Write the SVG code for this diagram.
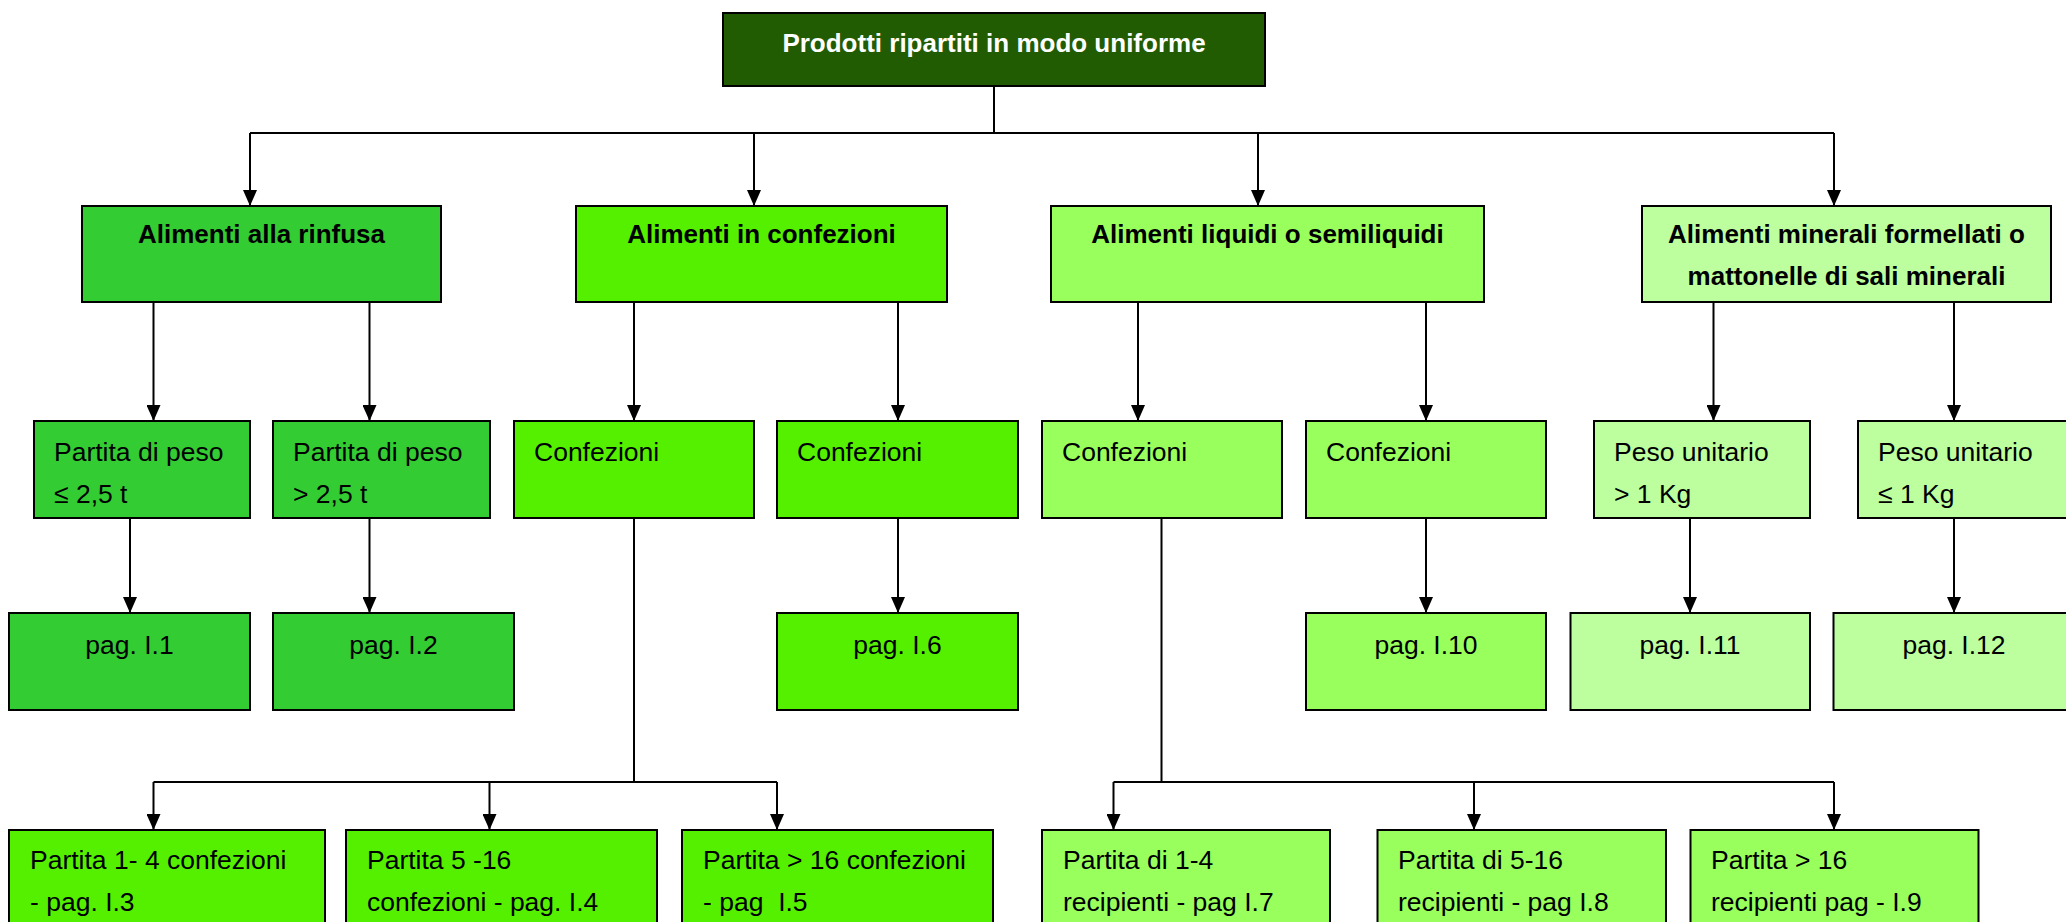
<svg xmlns="http://www.w3.org/2000/svg" width="2066" height="922" viewBox="0 0 2066 922">
<style>
.box{stroke:#000;stroke-width:2}
.top{fill:#215C03}
.g1{fill:#33CC33}
.g2{fill:#55F000}
.g3{fill:#99FF5C}
.g4{fill:#BDFF9E}
text{font-family:"Liberation Sans",Arial,sans-serif;font-size:26.5px;fill:#000;white-space:pre}
.b{font-weight:bold;font-size:26px}
.w{fill:#fff}
.c{text-anchor:middle}
.conn line{stroke:#000;stroke-width:2;fill:none}
</style>
<defs>
<marker id="arr" markerUnits="userSpaceOnUse" markerWidth="16" markerHeight="14" refX="16" refY="7" orient="auto" viewBox="0 0 16 14">
<path d="M0,0 L16,7 L0,14 z" fill="#000"/>
</marker>
</defs>
<rect width="2066" height="922" fill="#fff"/>

<g class="conn">
<line x1="994" y1="86" x2="994" y2="133"/>
<line x1="250" y1="133" x2="1834" y2="133"/>
<line x1="250" y1="133" x2="250" y2="206" marker-end="url(#arr)"/>
<line x1="754" y1="133" x2="754" y2="206" marker-end="url(#arr)"/>
<line x1="1258" y1="133" x2="1258" y2="206" marker-end="url(#arr)"/>
<line x1="1834" y1="133" x2="1834" y2="206" marker-end="url(#arr)"/>

<line x1="153.5" y1="302" x2="153.5" y2="421" marker-end="url(#arr)"/>
<line x1="369.5" y1="302" x2="369.5" y2="421" marker-end="url(#arr)"/>
<line x1="634" y1="302" x2="634" y2="421" marker-end="url(#arr)"/>
<line x1="898" y1="302" x2="898" y2="421" marker-end="url(#arr)"/>
<line x1="1138" y1="302" x2="1138" y2="421" marker-end="url(#arr)"/>
<line x1="1426" y1="302" x2="1426" y2="421" marker-end="url(#arr)"/>
<line x1="1713.5" y1="302" x2="1713.5" y2="421" marker-end="url(#arr)"/>
<line x1="1954" y1="302" x2="1954" y2="421" marker-end="url(#arr)"/>

<line x1="130" y1="518" x2="130" y2="613" marker-end="url(#arr)"/>
<line x1="369.5" y1="518" x2="369.5" y2="613" marker-end="url(#arr)"/>
<line x1="898" y1="518" x2="898" y2="613" marker-end="url(#arr)"/>
<line x1="1426" y1="518" x2="1426" y2="613" marker-end="url(#arr)"/>
<line x1="1690" y1="518" x2="1690" y2="613" marker-end="url(#arr)"/>
<line x1="1954" y1="518" x2="1954" y2="613" marker-end="url(#arr)"/>

<line x1="634" y1="518" x2="634" y2="782"/>
<line x1="153.5" y1="782" x2="777" y2="782"/>
<line x1="153.5" y1="782" x2="153.5" y2="830" marker-end="url(#arr)"/>
<line x1="489.5" y1="782" x2="489.5" y2="830" marker-end="url(#arr)"/>
<line x1="777" y1="782" x2="777" y2="830" marker-end="url(#arr)"/>

<line x1="1161.5" y1="518" x2="1161.5" y2="782"/>
<line x1="1113.5" y1="782" x2="1834" y2="782"/>
<line x1="1113.5" y1="782" x2="1113.5" y2="830" marker-end="url(#arr)"/>
<line x1="1474" y1="782" x2="1474" y2="830" marker-end="url(#arr)"/>
<line x1="1834" y1="782" x2="1834" y2="830" marker-end="url(#arr)"/>
</g>

<g id="n-root">
<rect class="box top" x="723" y="13" width="542" height="73"/>
<text class="b w c" x="994" y="52">Prodotti ripartiti in modo uniforme</text>
</g>

<g id="n-rinfusa">
<rect class="box g1" x="82" y="206" width="359" height="96"/>
<text class="b c" x="261.5" y="243">Alimenti alla rinfusa</text>
</g>
<g id="n-confezioni">
<rect class="box g2" x="576" y="206" width="371" height="96"/>
<text class="b c" x="761.5" y="243">Alimenti in confezioni</text>
</g>
<g id="n-liquidi">
<rect class="box g3" x="1051" y="206" width="433" height="96"/>
<text class="b c" x="1267.5" y="243">Alimenti liquidi o semiliquidi</text>
</g>
<g id="n-minerali">
<rect class="box g4" x="1642" y="206" width="409" height="96"/>
<text class="b c" x="1846.5" y="243">Alimenti minerali formellati o</text>
<text class="b c" x="1846.5" y="285">mattonelle di sali minerali</text>
</g>

<g id="n-peso-le">
<rect class="box g1" x="34" y="421" width="216" height="97"/>
<text x="54" y="461">Partita di peso</text>
<text x="54" y="503">≤ 2,5 t</text>
</g>
<g id="n-peso-gt">
<rect class="box g1" x="273" y="421" width="217" height="97"/>
<text x="293" y="461">Partita di peso</text>
<text x="293" y="503">&gt; 2,5 t</text>
</g>
<g id="n-conf-b1">
<rect class="box g2" x="514" y="421" width="240" height="97"/>
<text x="534" y="461">Confezioni</text>
</g>
<g id="n-conf-b2">
<rect class="box g2" x="777" y="421" width="241" height="97"/>
<text x="797" y="461">Confezioni</text>
</g>
<g id="n-conf-c1">
<rect class="box g3" x="1042" y="421" width="240" height="97"/>
<text x="1062" y="461">Confezioni</text>
</g>
<g id="n-conf-c2">
<rect class="box g3" x="1306" y="421" width="240" height="97"/>
<text x="1326" y="461">Confezioni</text>
</g>
<g id="n-peso-unit-gt">
<rect class="box g4" x="1594" y="421" width="216" height="97"/>
<text x="1614" y="461">Peso unitario</text>
<text x="1614" y="503">&gt; 1 Kg</text>
</g>
<g id="n-peso-unit-le">
<rect class="box g4" x="1858" y="421" width="230" height="97"/>
<text x="1878" y="461">Peso unitario</text>
<text x="1878" y="503">≤ 1 Kg</text>
</g>

<g id="n-i1">
<rect class="box g1" x="9" y="613" width="241" height="97"/>
<text class="c" x="129.5" y="654">pag. I.1</text>
</g>
<g id="n-i2">
<rect class="box g1" x="273" y="613" width="241" height="97"/>
<text class="c" x="393.5" y="654">pag. I.2</text>
</g>
<g id="n-i6">
<rect class="box g2" x="777" y="613" width="241" height="97"/>
<text class="c" x="897.5" y="654">pag. I.6</text>
</g>
<g id="n-i10">
<rect class="box g3" x="1306" y="613" width="240" height="97"/>
<text class="c" x="1426" y="654">pag. I.10</text>
</g>
<g id="n-i11">
<rect class="box g4" x="1570.5" y="613" width="239.5" height="97"/>
<text class="c" x="1690" y="654">pag. I.11</text>
</g>
<g id="n-i12">
<rect class="box g4" x="1833.5" y="613" width="241" height="97"/>
<text class="c" x="1954" y="654">pag. I.12</text>
</g>

<g id="n-i3">
<rect class="box g2" x="9" y="830" width="316" height="110"/>
<text x="30" y="869">Partita 1- 4 confezioni</text>
<text x="30" y="911">- pag. I.3</text>
</g>
<g id="n-i4">
<rect class="box g2" x="346" y="830" width="311" height="110"/>
<text x="367" y="869">Partita 5 -16</text>
<text x="367" y="911">confezioni - pag. I.4</text>
</g>
<g id="n-i5">
<rect class="box g2" x="682" y="830" width="311" height="110"/>
<text x="703" y="869">Partita &gt; 16 confezioni</text>
<text x="703" y="911">- pag  I.5</text>
</g>
<g id="n-i7">
<rect class="box g3" x="1042" y="830" width="288" height="110"/>
<text x="1063" y="869">Partita di 1-4</text>
<text x="1063" y="911">recipienti - pag I.7</text>
</g>
<g id="n-i8">
<rect class="box g3" x="1377.5" y="830" width="288.5" height="110"/>
<text x="1398" y="869">Partita di 5-16</text>
<text x="1398" y="911">recipienti - pag I.8</text>
</g>
<g id="n-i9">
<rect class="box g3" x="1690.5" y="830" width="288" height="110"/>
<text x="1711" y="869">Partita &gt; 16</text>
<text x="1711" y="911">recipienti pag - I.9</text>
</g>
</svg>
